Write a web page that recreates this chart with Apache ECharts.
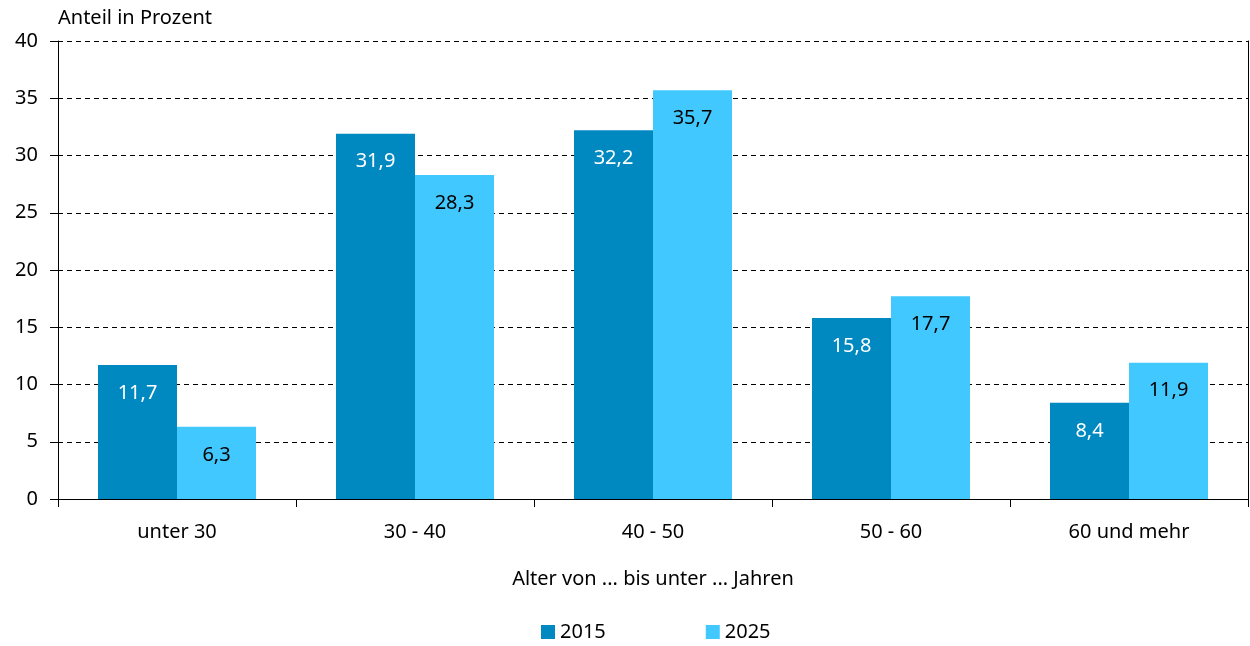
<!DOCTYPE html>
<html>
<head>
<meta charset="utf-8">
<script src="https://cdn.jsdelivr.net/npm/echarts@6/dist/echarts.min.js"></script>
<style>
  html, body { margin: 0; padding: 0; background: #fff; }
  #chart { width: 1250px; height: 646px; }
</style>
</head>
<body>
<div id="chart"></div>
<script>
var categories = ["unter 30", "30 - 40", "40 - 50", "50 - 60", "60 und mehr"];
var values2015 = [11.7, 31.9, 32.2, 15.8, 8.4];
var values2025 = [6.3, 28.3, 35.7, 17.7, 11.9];
var seriesNames = ["2015", "2025"];

var font = "'Noto Sans', sans-serif";
var fs = 20;
var fmt = function (p) { return String(p.value).replace(".", ","); };

var myChart = echarts.init(document.getElementById("chart"));
myChart.setOption({
  animation: false,
  textStyle: { fontFamily: font },
  title: {
    text: "Anteil in Prozent",
    left: 53,
    top: 3,
    textStyle: { fontFamily: font, fontSize: fs, fontWeight: "normal", color: "#000" }
  },
  legend: {
    data: seriesNames,
    bottom: -1,
    left: 536,
    itemWidth: 14,
    itemHeight: 14,
    itemGap: 100,
    icon: "rect",
    textStyle: { fontFamily: font, fontSize: fs, color: "#000" }
  },
  grid: { left: 58, right: 2, top: 41, bottom: 147 },
  xAxis: {
    type: "category",
    data: categories,
    name: "Alter von ... bis unter ... Jahren",
    nameLocation: "middle",
    nameGap: 70,
    nameTextStyle: { fontFamily: font, fontSize: fs, color: "#000" },
    axisLine: { lineStyle: { color: "#000", width: 1 } },
    axisTick: { show: true, length: 8, lineStyle: { color: "#000" } },
    axisLabel: { fontFamily: font, fontSize: fs, color: "#000", margin: 23 }
  },
  yAxis: [
    {
      type: "value",
      min: 0,
      max: 40,
      interval: 5,
      axisLine: { show: true, lineStyle: { color: "#000", width: 1 } },
      axisTick: { show: true, length: 8, lineStyle: { color: "#000" } },
      axisLabel: { fontFamily: font, fontSize: fs, color: "#000", margin: 20 },
      splitLine: { lineStyle: { color: "#000", type: [5, 4], width: 1 } }
    },
    {
      type: "value",
      position: "right",
      min: 0,
      max: 40,
      interval: 5,
      axisLine: { show: true, lineStyle: { color: "#000", width: 1 } },
      axisTick: { show: false },
      axisLabel: { show: false },
      splitLine: { show: false }
    }
  ],
  series: [
    {
      name: seriesNames[0],
      type: "bar",
      data: values2015,
      barWidth: 79,
      barGap: "0%",
      itemStyle: { color: "#0088C0" },
      label: {
        show: true,
        position: "insideTop",
        distance: 18,
        formatter: fmt,
        color: "#fff",
        fontFamily: font,
        fontSize: fs
      }
    },
    {
      name: seriesNames[1],
      type: "bar",
      data: values2025,
      barWidth: 79,
      barGap: "0%",
      itemStyle: { color: "#40C8FF" },
      label: {
        show: true,
        position: "insideTop",
        distance: 18,
        formatter: fmt,
        color: "#000",
        fontFamily: font,
        fontSize: fs
      }
    }
  ]
});
</script>
</body>
</html>
